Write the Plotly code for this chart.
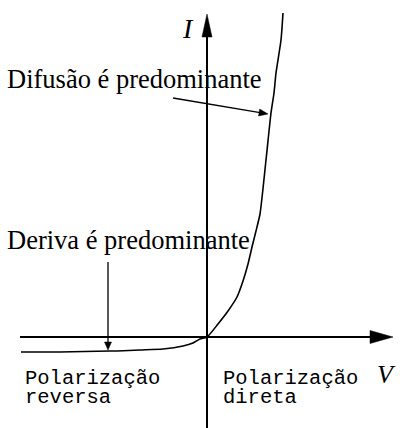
import plotly.graph_objects as go

# Diode I-V characteristic (schematic units, origin at axes crossing)
V = [-186, -147, -97, -90, -67, -44, -24, -14, -7, 0, 11, 21, 30, 36, 41, 45, 49, 53, 59, 64, 67, 69, 74, 76]
I = [-15, -15, -14, -14, -13, -12, -9, -6, -2, 0, 13, 26, 40, 56, 73, 90, 106, 123, 177, 224, 244, 264, 297, 324]

axis_labels = ["V", "I"]
annotation_texts = ["Difusão é predominante", "Deriva é predominante"]
region_labels = [["Polarização", "reversa"], ["Polarização", "direta"]]

W, H = 404, 428
X0, Y0 = 207, 337  # pixel position of origin
xr = [-X0, W - X0]
yr = [Y0 - H, Y0]

SERIF = "Times New Roman, Liberation Serif, serif"
MONO = "Courier New, Liberation Mono, monospace"

fig = go.Figure()
fig.add_trace(go.Scatter(x=V, y=I, mode="lines",
                         line=dict(color="black", width=1.6, shape="spline", smoothing=0.6),
                         hoverinfo="skip", showlegend=False))

shapes = []


def arrow(x0, y0, x1, y1, head_len, half_w, lw):
    import math
    dx, dy = x1 - x0, y1 - y0
    L = math.hypot(dx, dy)
    ux, uy = dx / L, dy / L
    bx, by = x1 - ux * head_len, y1 - uy * head_len
    px, py = -uy, ux
    shapes.append(dict(type="line", x0=x0, y0=y0, x1=bx + ux * 1, y1=by + uy * 1,
                       line=dict(color="black", width=lw)))
    path = (f"M {x1},{y1} L {bx + px * half_w},{by + py * half_w} "
            f"L {bx - px * half_w},{by - py * half_w} Z")
    shapes.append(dict(type="path", path=path, fillcolor="black",
                       line=dict(color="black", width=0.5)))


# axes
arrow(-187, 0, 186, 0, 23, 6.5, 2)
arrow(0, -91, 0, 323, 23, 5, 2)
# annotation arrows
arrow(-34, 239, 61, 223, 9, 3.5, 1.3)
arrow(-99, 75, -99, -13, 8, 3.5, 1.3)

ann = []
ann.append(dict(x=-19, y=309, text=f"<i>{axis_labels[1]}</i>", showarrow=False,
                font=dict(family=SERIF, size=28, color="black"), xanchor="center", yanchor="middle"))
ann.append(dict(x=179, y=-37, text=f"<i>{axis_labels[0]}</i>", showarrow=False,
                font=dict(family=SERIF, size=26, color="black"), xanchor="center", yanchor="middle"))
ann.append(dict(x=-202, y=258, text=annotation_texts[0], showarrow=False,
                font=dict(family=SERIF, size=26.5, color="black"), xanchor="left", yanchor="middle"))
ann.append(dict(x=-202, y=97, text=annotation_texts[1], showarrow=False,
                font=dict(family=SERIF, size=26.5, color="black"), xanchor="left", yanchor="middle"))
for xx, lines in zip([-184, 14], region_labels):
    for k, t in enumerate(lines):
        ann.append(dict(x=xx, y=-41 - 19 * k, text=t, showarrow=False,
                        font=dict(family=MONO, size=20.5, color="black"),
                        xanchor="left", yanchor="middle"))

fig.update_layout(
    width=W, height=H, margin=dict(l=0, r=0, t=0, b=0),
    paper_bgcolor="white", plot_bgcolor="white",
    xaxis=dict(range=xr, visible=False, fixedrange=True),
    yaxis=dict(range=yr, visible=False, fixedrange=True),
    shapes=shapes, annotations=ann, showlegend=False,
)
fig.write_html("out.html", config={"displayModeBar": False},
               post_script="document.body.style.margin='0';document.body.style.overflow='hidden';")
